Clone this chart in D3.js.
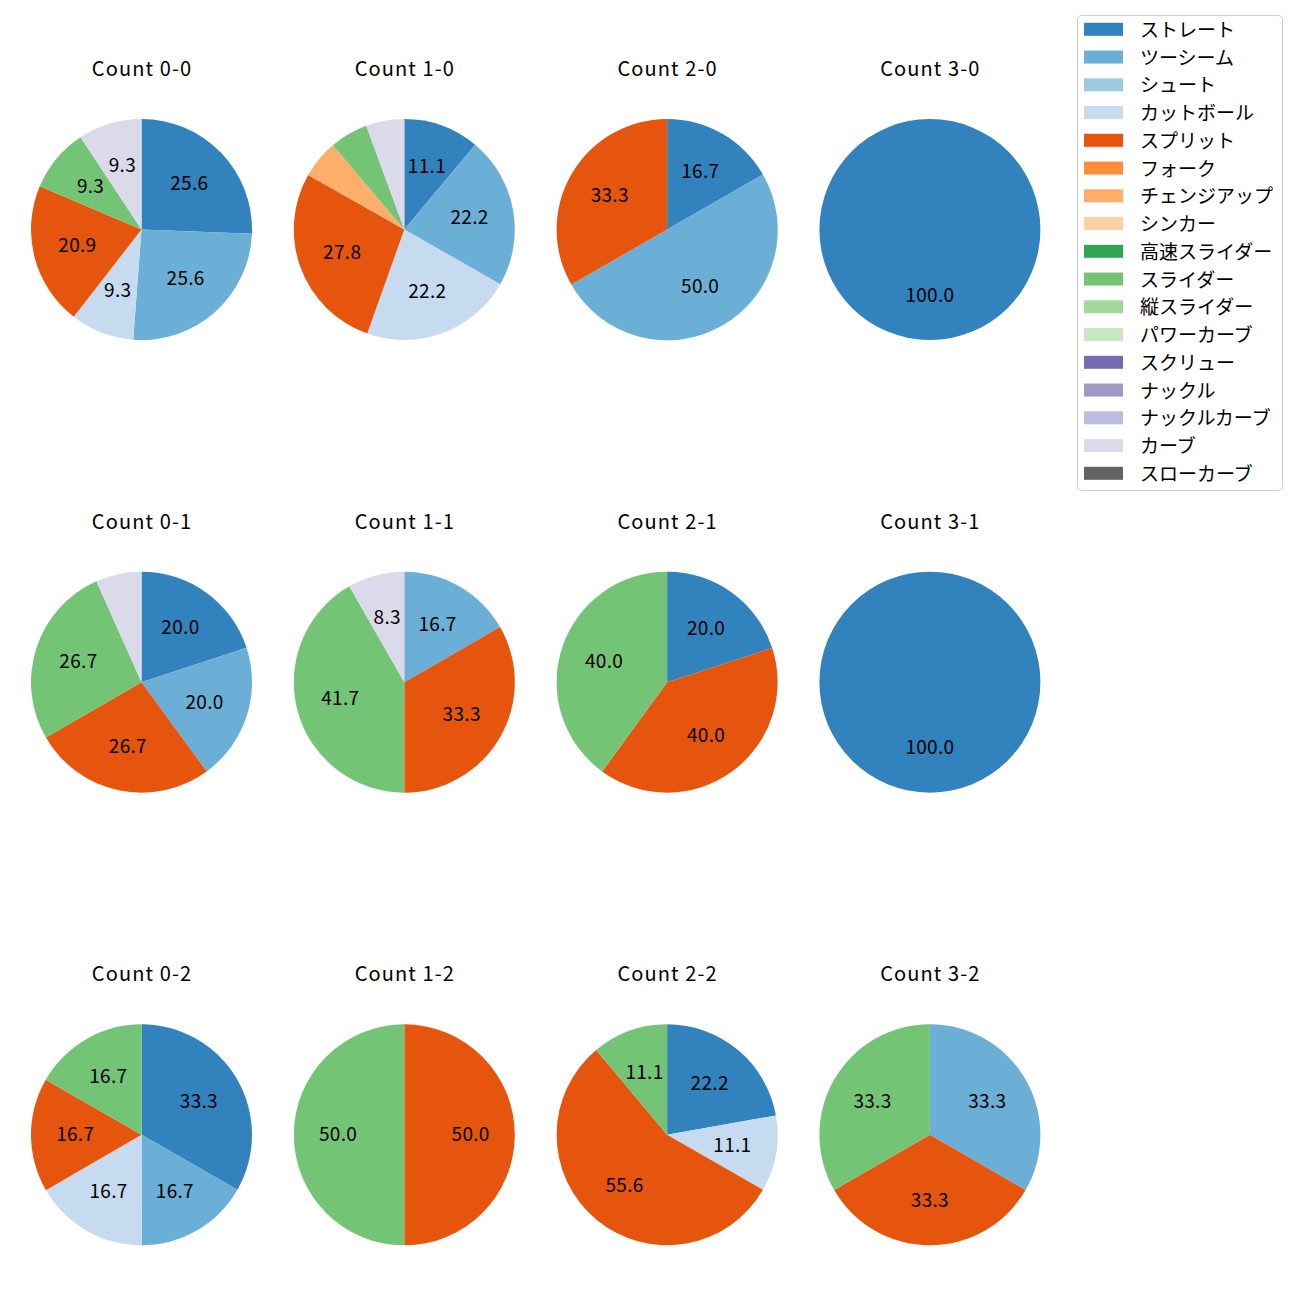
<!DOCTYPE html>
<html>
<head>
<meta charset="utf-8">
<script src="https://cdn.jsdelivr.net/npm/d3@7"></script>
<style>
  html, body { margin: 0; padding: 0; background: #ffffff; }
  svg { display: block; }
  text { font-family: "Noto Sans CJK JP", "Noto Sans", sans-serif; fill: #000; }
</style>
</head>
<body>
<svg id="chart" width="1300" height="1300"></svg>
<script>
// ---- data ----
const pitchTypes = ["ストレート","ツーシーム","シュート","カットボール","スプリット","フォーク","チェンジアップ","シンカー","高速スライダー","スライダー","縦スライダー","パワーカーブ","スクリュー","ナックル","ナックルカーブ","カーブ","スローカーブ"];
const pitchColors = ["#3182bd","#6baed6","#9ecae1","#c6dbef","#e6550d","#fd8d3c","#fdae6b","#fdd0a2","#31a354","#74c476","#a1d99b","#c7e9c0","#756bb1","#9e9ac8","#bcbddc","#dadaeb","#636363"];

const panelTitles = ["Count 0-0","Count 1-0","Count 2-0","Count 3-0",
                     "Count 0-1","Count 1-1","Count 2-1","Count 3-1",
                     "Count 0-2","Count 1-2","Count 2-2","Count 3-2"];

// percentages per pitch type (order of pitchTypes)
const count00 = [25.6,25.6,0,9.3,20.9,0,0,0,0,9.3,0,0,0,0,0,9.3,0];
const count10 = [11.1,22.2,0,22.2,27.8,0,5.6,0,0,5.6,0,0,0,0,0,5.6,0];
const count20 = [16.7,50.0,0,0,33.3,0,0,0,0,0,0,0,0,0,0,0,0];
const count30 = [100.0,0,0,0,0,0,0,0,0,0,0,0,0,0,0,0,0];
const count01 = [20.0,20.0,0,0,26.7,0,0,0,0,26.7,0,0,0,0,0,6.7,0];
const count11 = [0,16.7,0,0,33.3,0,0,0,0,41.7,0,0,0,0,0,8.3,0];
const count21 = [20.0,0,0,0,40.0,0,0,0,0,40.0,0,0,0,0,0,0,0];
const count31 = [100.0,0,0,0,0,0,0,0,0,0,0,0,0,0,0,0,0];
const count02 = [33.3,16.7,0,16.7,16.7,0,0,0,0,16.7,0,0,0,0,0,0,0];
const count12 = [0,0,0,0,50.0,0,0,0,0,50.0,0,0,0,0,0,0,0];
const count22 = [22.2,0,0,11.1,55.6,0,0,0,0,11.1,0,0,0,0,0,0,0];
const count32 = [0,33.3,0,0,33.3,0,0,0,0,33.3,0,0,0,0,0,0,0];

const panelValues = [count00,count10,count20,count30,
                     count01,count11,count21,count31,
                     count02,count12,count22,count32];

const labelThreshold = 7.5; // smaller slices carry no label

// ---- layout ----
const svg = d3.select("#chart");
const colX = d3.scaleLinear().domain([0, 3]).range([141.5, 929.9]);
const rowY = d3.scaleLinear().domain([0, 2]).range([229.5, 1134.8]);
const R = 110.5;
const fontSize = 19;

const color = d3.scaleOrdinal().domain(pitchTypes).range(pitchColors);
const pie = d3.pie().sort(null).value(d => d.value).startAngle(0).endAngle(2 * Math.PI);
const arc = d3.arc().innerRadius(0).outerRadius(R);
const labelArc = d3.arc().innerRadius(R * 0.6).outerRadius(R * 0.6);

panelValues.forEach((vals, i) => {
  const col = i % 4, row = Math.floor(i / 4);
  const cx = colX(col), cy = rowY(row);
  const data = pitchTypes.map((t, k) => ({ type: t, value: vals[k] }));
  const arcs = pie(data).filter(a => a.data.value > 0);
  const g = svg.append("g").attr("transform", `translate(${cx},${cy})`);

  g.selectAll("path.slice").data(arcs).enter().append("path")
    .attr("class", "slice")
    .attr("d", arc)
    .attr("fill", d => color(d.data.type));

  g.selectAll("text.lbl").data(arcs.filter(a => a.data.value >= labelThreshold)).enter().append("text")
    .attr("class", "lbl")
    .attr("x", d => labelArc.centroid(d)[0])
    .attr("y", d => labelArc.centroid(d)[1] - 2.5)
    .attr("text-anchor", "middle")
    .attr("dominant-baseline", "central")
    .style("font-size", fontSize + "px")
    .style("letter-spacing", "0.3px")
    .text(d => d.data.value.toFixed(1));

  svg.append("text")
    .attr("x", cx + 0.5)
    .attr("y", cy - 153.5)
    .attr("text-anchor", "middle")
    .style("font-size", "20px")
    .style("letter-spacing", "1.1px")
    .text(panelTitles[i]);
});

// ---- legend ----
const legend = svg.append("g");
legend.append("rect")
  .attr("x", 1077.5).attr("y", 15.5).attr("width", 205).attr("height", 475)
  .attr("rx", 4).attr("ry", 4)
  .attr("fill", "#ffffff").attr("fill-opacity", 0.8)
  .attr("stroke", "#cccccc").attr("stroke-width", 1);

const legY = d3.scaleLinear().domain([0, pitchTypes.length - 1]).range([29.3, 473.3]);
pitchTypes.forEach((t, k) => {
  legend.append("rect")
    .attr("x", 1084).attr("y", legY(k) - 6.5)
    .attr("width", 39).attr("height", 13)
    .attr("fill", color(t));
  legend.append("text")
    .attr("x", 1140).attr("y", legY(k) - 1)
    .attr("dominant-baseline", "central")
    .style("font-size", fontSize + "px")
    .text(t);
});
</script>
</body>
</html>
